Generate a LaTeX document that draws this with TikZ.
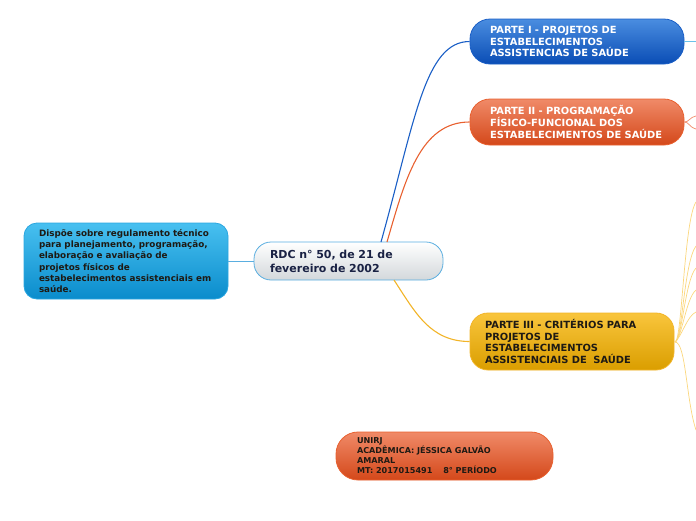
\documentclass[tikz,border=0pt]{standalone}
\usepackage{fontspec}
\setmainfont{DejaVu Sans}
\begin{document}
\begin{tikzpicture}[x=1pt,y=-1pt,
  box/.style={draw, line width=0.8pt, align=left, inner xsep=0pt, inner ysep=0pt, font=\bfseries},
  link/.style={line width=1.1pt},
  twig/.style={line width=0.7pt, draw=yellowline}]
\definecolor{blueT}{HTML}{4A8DE0}\definecolor{blueB}{HTML}{0A4DB5}\definecolor{blueD}{HTML}{1B5FC6}
\definecolor{orT}{HTML}{F08A68}\definecolor{orB}{HTML}{D4481A}\definecolor{orD}{HTML}{E8602F}
\definecolor{yeT}{HTML}{F9C53C}\definecolor{yeB}{HTML}{DA9E00}\definecolor{yeD}{HTML}{F2B428}
\definecolor{cyT}{HTML}{48C0F0}\definecolor{cyB}{HTML}{0A8CCC}\definecolor{cyD}{HTML}{2AA6E0}
\definecolor{grB}{HTML}{D3D8DB}\definecolor{grD}{HTML}{5AAEE0}
\definecolor{navy}{HTML}{1A2244}\definecolor{darktext}{HTML}{1E1A14}
\definecolor{yellowline}{HTML}{FBD77E}
\useasboundingbox (0,0) rectangle (696,520);

% nodes
\node (left) [box, draw=cyD, top color=cyT, bottom color=cyB, rounded corners=13pt,
  minimum width=204pt, minimum height=76pt, text width=174pt, font=\bfseries\fontsize{8.8}{11.3}\selectfont, text=darktext]
  at (126,261) {Dispõe sobre regulamento técnico\\para planejamento, programação,\\elaboração e avaliação de\\projetos físicos de\\estabelecimentos assistenciais em\\saúde.};
\node (center) [box, draw=grD, top color=white, bottom color=grB, rounded corners=17pt,
  minimum width=189pt, minimum height=38pt, text width=157pt, font=\bfseries\fontsize{11}{14}\selectfont, text=navy]
  at (348.5,261) {RDC n° 50, de 21 de\\fevereiro de 2002};
\node (p1) [box, draw=blueD, top color=blueT, bottom color=blueB, rounded corners=20pt,
  minimum width=214pt, minimum height=45pt, text width=174pt, font=\bfseries\fontsize{9.9}{11.6}\selectfont, text=white]
  at (577,41.5) {PARTE I - PROJETOS DE\\ESTABELECIMENTOS\\ASSISTENCIAS DE SAÚDE};
\node (p2) [box, draw=orD, top color=orT, bottom color=orB, rounded corners=20pt,
  minimum width=214pt, minimum height=46pt, text width=174pt, font=\bfseries\fontsize{9.9}{11.6}\selectfont, text=white]
  at (577,122) {PARTE II - PROGRAMAÇÃO\\FÍSICO-FUNCIONAL DOS\\ESTABELECIMENTOS DE SAÚDE};
\node (p3) [box, draw=yeD, top color=yeT, bottom color=yeB, rounded corners=18pt,
  minimum width=204pt, minimum height=57pt, text width=174pt, font=\bfseries\fontsize{9.9}{11.6}\selectfont, text=darktext]
  at (572,341.5) {PARTE III - CRITÉRIOS PARA\\PROJETOS DE\\ESTABELECIMENTOS\\ASSISTENCIAIS DE~~SAÚDE};
\node (au) [box, draw=orD, top color=orT, bottom color=orB, rounded corners=22pt,
  minimum width=217pt, minimum height=48pt, text width=175pt, font=\bfseries\fontsize{8.1}{10}\selectfont, text=darktext]
  at (444.5,456) {UNIRJ\\ACADÊMICA: JÉSSICA GALVÃO\\AMARAL\\MT: 2017015491~~~~8° PERÍODO};

% coordinates for free ends
\coordinate (c1s) at (381,242);
\coordinate (c2s) at (387,242);
\coordinate (c3s) at (394,280);
\coordinate (e1) at (696,41.5);
\coordinate (e2a) at (696,116);
\coordinate (e2b) at (696,129);
\coordinate (j3) at (675,342);
\coordinate (t1) at (696,202);
\coordinate (t2) at (696,246);
\coordinate (t3) at (696,268);
\coordinate (t4) at (696,290);
\coordinate (t5) at (696,312);
\coordinate (t6) at (696,430);

% connectors
\draw[link, draw=grD, line width=0.9pt] (left.east) -- (center.west);
\draw[link, draw=blueD] (c1s) .. controls (415,120) and (425,41.5) .. (p1.west);
\draw[link, draw=orD] (c2s) .. controls (405,180) and (420,122) .. (p2.west);
\draw[link, draw=yeD] (c3s) .. controls (415,312) and (430,341.5) .. (p3.west);
\draw[line width=0.9pt, draw=cyD!70] (p1.east) -- (e1);
\draw[line width=0.7pt, draw=orT] (p2.east) .. controls (689,122) and (690,117) .. (e2a);
\draw[line width=0.7pt, draw=orT] (p2.east) .. controls (689,122) and (690,128) .. (e2b);
\draw[twig] (p3.east) -- (j3);
\draw[twig] (j3) .. controls (682,342) and (684,220) .. (t1);
\draw[twig] (j3) .. controls (682,342) and (684,262) .. (t2);
\draw[twig] (j3) .. controls (682,340) and (685,280) .. (t3);
\draw[twig] (j3) .. controls (682,338) and (686,298) .. (t4);
\draw[twig] (j3) .. controls (682,336) and (687,316) .. (t5);
\draw[twig] (j3) .. controls (686,342) and (686,400) .. (t6);
\end{tikzpicture}
\end{document}
